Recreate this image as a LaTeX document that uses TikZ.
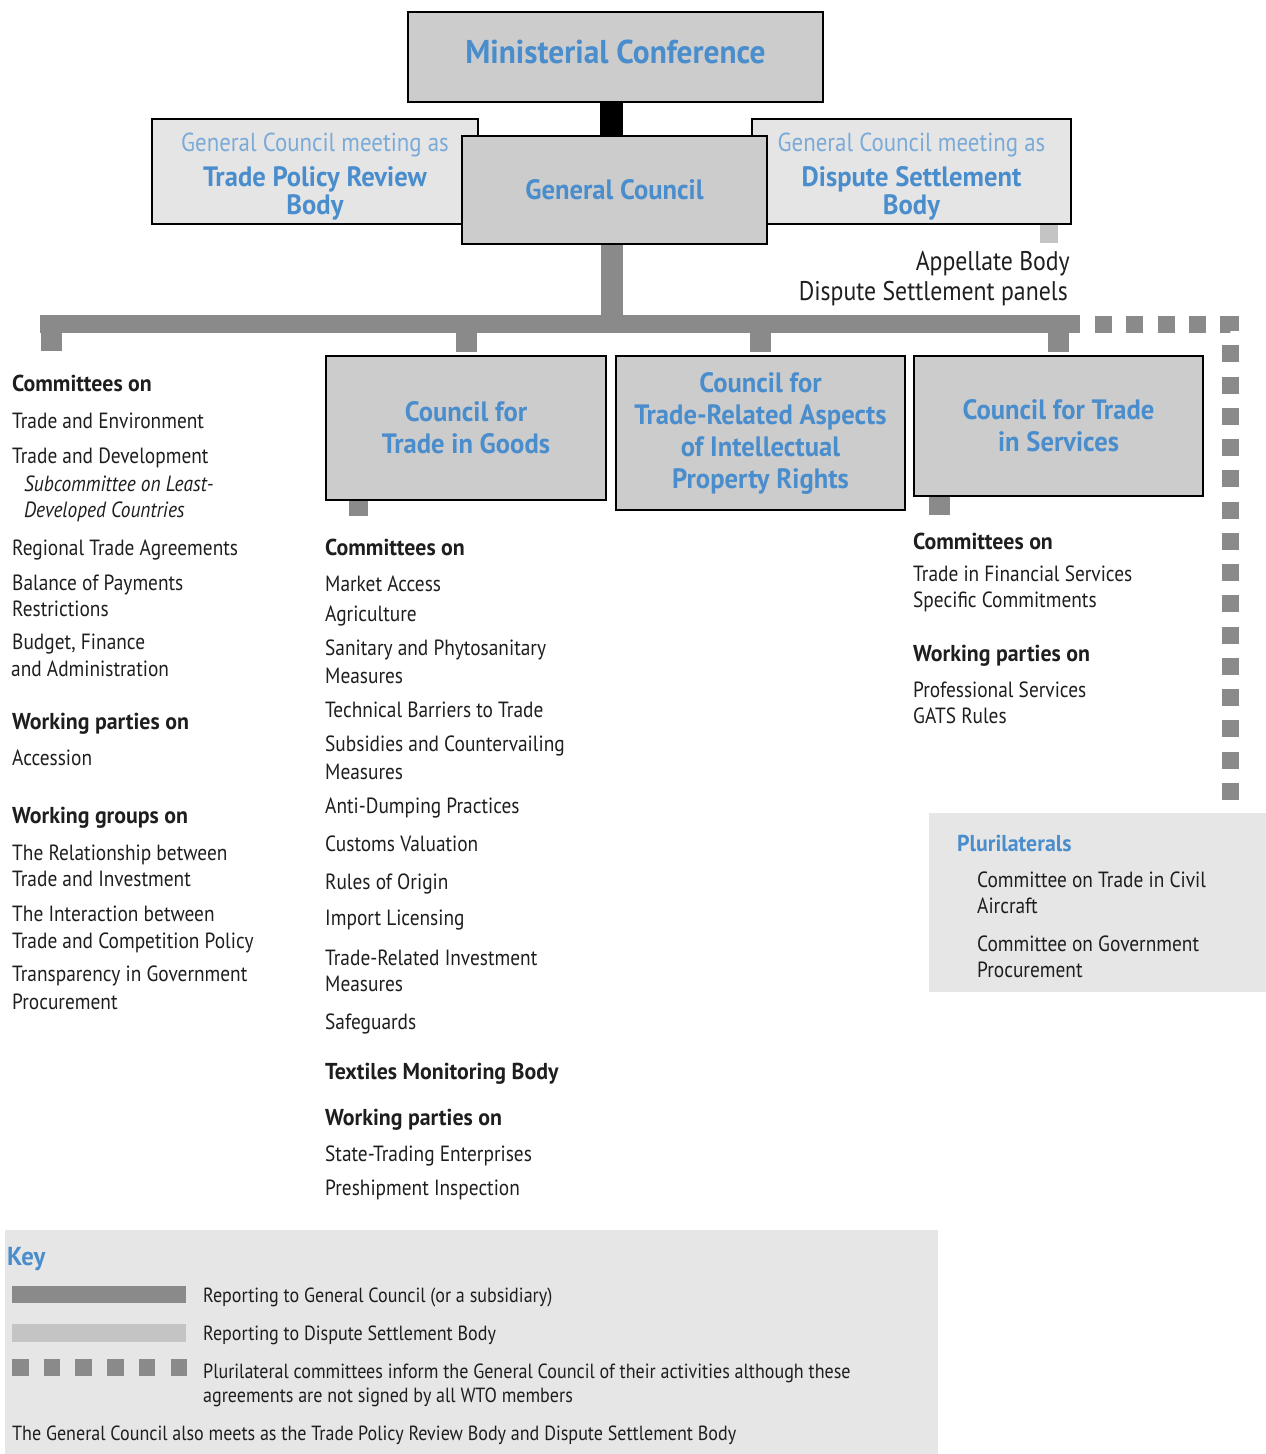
\documentclass[tikz,border=0pt]{standalone}
\usepackage{fontspec}
\setmainfont{PT Sans}[UprightFeatures={FakeStretch=0.88}, ItalicFeatures={FakeStretch=0.88}, BoldFeatures={FakeStretch=0.95}]
\definecolor{boxdark}{RGB}{204,204,204}
\definecolor{boxlight}{RGB}{229,229,229}
\definecolor{keyfill}{RGB}{230,230,230}
\definecolor{lndark}{RGB}{138,138,138}
\definecolor{lnlight}{RGB}{196,196,196}
\definecolor{ttlblue}{RGB}{74,141,204}
\definecolor{subblue}{RGB}{122,170,216}
\definecolor{txt}{RGB}{30,30,30}
\pgfdeclarelayer{bg}
\pgfsetlayers{bg,main}
\begin{document}
\begin{tikzpicture}[x=1pt,y=-1pt,
  bigbox/.style={draw=black, line width=2pt, fill=boxdark, inner sep=0pt, anchor=north west, align=center, text=ttlblue, font=\fontsize{28}{32}\selectfont\bfseries},
  gcbox/.style={bigbox, fill=boxlight},
  itm/.style={anchor=base west, inner sep=0pt, text=txt, yshift=-8pt, font=\fontsize{22}{26}\selectfont},
  itmit/.style={itm, font=\fontsize{22}{26}\selectfont\itshape},
  hd/.style={itm, font=\fontsize{23}{26}\selectfont\bfseries},
  keyitm/.style={anchor=base west, inner sep=0pt, text=txt, yshift=-7pt, font=\fontsize{20.5}{24}\selectfont},
  blhd/.style={itm, text=ttlblue, font=\fontsize{23}{26}\selectfont\bfseries},
  apb/.style={anchor=base east, inner sep=0pt, text=txt, yshift=-9pt, font=\fontsize{27}{30}\selectfont},
  conn/.style={draw=lndark, line width=22pt},
  stub/.style={draw=lndark, line width=21pt},
  lightconn/.style={draw=lnlight, line width=18pt},
  dotline/.style={draw=lndark, line width=17pt, dash pattern=on 17pt off 14.25pt},
]
\useasboundingbox (0,0) rectangle (1266,1454);

% ---------- top boxes ----------
\node[bigbox, font=\fontsize{33}{38}\selectfont\bfseries, text depth=10pt, minimum width=415, minimum height=90] (mc) at (407,11) {Ministerial Conference};
\node[gcbox, minimum width=326, minimum height=105] (tprb) at (151,118)
  {\rule{0pt}{29pt}{\fontsize{26}{30}\selectfont\mdseries\color{subblue}General Council meeting as}\\[3pt]Trade Policy Review\\[-4pt]Body};
\node[gcbox, minimum width=319, minimum height=105] (dsb) at (751,118)
  {\rule{0pt}{29pt}{\fontsize{26}{30}\selectfont\mdseries\color{subblue}General Council meeting as}\\[3pt]Dispute Settlement\\[-4pt]Body};
\node[bigbox, minimum width=305, minimum height=108] (gc) at (461,135) {General Council};

\node[apb] (ab) at (1070,261) {Appellate Body};
\node[apb] (dsp) at (1068,291) {Dispute Settlement panels};

% ---------- councils ----------
\node[bigbox, minimum width=280, minimum height=144] (goods) at (325,355) {Council for\\Trade in Goods};
\node[bigbox, minimum width=289, minimum height=154] (trips) at (615,355) {Council for\\Trade-Related Aspects\\of Intellectual\\Property Rights};
\node[bigbox, minimum width=289, minimum height=140] (serv) at (913,355) {Council for Trade\\in Services};

% ---------- plurilaterals ----------
\node[fill=keyfill, inner sep=0pt, anchor=north west, minimum width=337, minimum height=179] (pluri) at (929,813) {};
\node[blhd] (pl0) at (957,843) {Plurilaterals};
\node[itm] (pl1) at (977,879) {Committee on Trade in Civil};
\node[itm] (pl2) at (977,905) {Aircraft};
\node[itm] (pl3) at (977,943) {Committee on Government};
\node[itm] (pl4) at (977,969) {Procurement};

% ---------- connectors ----------
\coordinate (barL) at (40,324);
\coordinate (barR) at (1080,324);
\coordinate (ls) at (51,351);
\coordinate (gstub) at (358.5,516);
\coordinate (sstub) at (939.5,515);
\coordinate (abstub) at (1049,243);
\coordinate (dS) at (1095,324);
\coordinate (dC) at (1230,324);
\begin{pgfonlayer}{bg}
\draw[draw=black, line width=23pt] (mc.south -| 611.5,0) -- (611.5,0 |- gc.north);
\draw[conn] (611.5,0 |- gc.south) -- (611.5,0 |- barL);
\draw[draw=lndark, line width=18pt] (barL) -- (barR);
\draw[stub] (ls |- barL) -- (ls);
\draw[stub, shorten >=3pt] (goods.north |- barL) -- (goods.north);
\draw[stub, shorten >=3pt] (trips.north |- barL) -- (trips.north);
\draw[stub, shorten >=3pt] (serv.north |- barL) -- (serv.north);
\draw[stub, line width=19pt] (gstub |- goods.south) -- (gstub);
\draw[stub] (sstub |- serv.south) -- (sstub);
\draw[lightconn] (abstub |- dsb.south) -- (abstub);
\draw[dotline] (dS) -- (dC) -- (dC |- pluri.north);
\end{pgfonlayer}

% ---------- left column ----------
\node[hd]  (l1)  at (12,383) {Committees on};
\node[itm] (l2)  at (12,420) {Trade and Environment};
\node[itm] (l3)  at (12,455) {Trade and Development};
\node[itmit] (l4) at (24,483) {Subcommittee on Least-};
\node[itmit] (l5) at (24,509) {Developed Countries};
\node[itm] (l6)  at (12,547) {Regional Trade Agreements};
\node[itm] (l7)  at (12,582) {Balance of Payments};
\node[itm] (l8)  at (12,608) {Restrictions};
\node[itm] (l9)  at (12,641) {Budget, Finance};
\node[itm] (l10) at (11,668) {and Administration};
\node[hd]  (l11) at (12,721) {Working parties on};
\node[itm] (l12) at (12,757) {Accession};
\node[hd]  (l13) at (12,815) {Working groups on};
\node[itm] (l14) at (12,852) {The Relationship between};
\node[itm] (l15) at (12,878) {Trade and Investment};
\node[itm] (l16) at (12,913) {The Interaction between};
\node[itm] (l17) at (12,940) {Trade and Competition Policy};
\node[itm] (l18) at (12,973) {Transparency in Government};
\node[itm] (l19) at (12,1001) {Procurement};

% ---------- middle column ----------
\node[hd]  (m1)  at (325,547) {Committees on};
\node[itm] (m2)  at (325,583) {Market Access};
\node[itm] (m3)  at (325,613) {Agriculture};
\node[itm] (m4)  at (325,647) {Sanitary and Phytosanitary};
\node[itm] (m5)  at (325,675) {Measures};
\node[itm] (m6)  at (325,709) {Technical Barriers to Trade};
\node[itm] (m7)  at (325,743) {Subsidies and Countervailing};
\node[itm] (m8)  at (325,771) {Measures};
\node[itm] (m9)  at (325,805) {Anti-Dumping Practices};
\node[itm] (m10) at (325,843) {Customs Valuation};
\node[itm] (m11) at (325,881) {Rules of Origin};
\node[itm] (m12) at (325,917) {Import Licensing};
\node[itm] (m13) at (325,957) {Trade-Related Investment};
\node[itm] (m14) at (325,983) {Measures};
\node[itm] (m15) at (325,1021) {Safeguards};
\node[hd]  (m16) at (325,1071) {Textiles Monitoring Body};
\node[hd]  (m17) at (325,1117) {Working parties on};
\node[itm] (m18) at (325,1153) {State-Trading Enterprises};
\node[itm] (m19) at (325,1187) {Preshipment Inspection};

% ---------- right column ----------
\node[hd]  (r1) at (913,541) {Committees on};
\node[itm] (r2) at (913,573) {Trade in Financial Services};
\node[itm] (r3) at (913,599) {Specific Commitments};
\node[hd]  (r4) at (913,653) {Working parties on};
\node[itm] (r5) at (913,689) {Professional Services};
\node[itm] (r6) at (913,715) {GATS Rules};

% ---------- key ----------
\node[fill=keyfill, inner sep=0pt, anchor=north west, minimum width=933, minimum height=224] (key) at (5,1230) {};
\node[blhd, yshift=-1pt, font=\fontsize{26}{30}\selectfont\bfseries] (k0) at (7,1256) {Key};
\draw[draw=lndark, line width=17pt] (12,1294.5) -- (186,1294.5);
\draw[draw=lnlight, line width=18pt] (12,1333) -- (186,1333);
\draw[draw=lndark, line width=17pt, dash pattern=on 16.5pt off 15.2pt] (12,1367.5) -- (187,1367.5);
\node[keyitm] (k1) at (203,1295) {Reporting to General Council (or a subsidiary)};
\node[keyitm] (k2) at (203,1333) {Reporting to Dispute Settlement Body};
\node[keyitm] (k3) at (203,1371) {Plurilateral committees inform the General Council of their activities although these};
\node[keyitm] (k4) at (203,1395) {agreements are not signed by all WTO members};
\node[keyitm] (k5) at (12,1433) {The General Council also meets as the Trade Policy Review Body and Dispute Settlement Body};
\end{tikzpicture}
\end{document}
